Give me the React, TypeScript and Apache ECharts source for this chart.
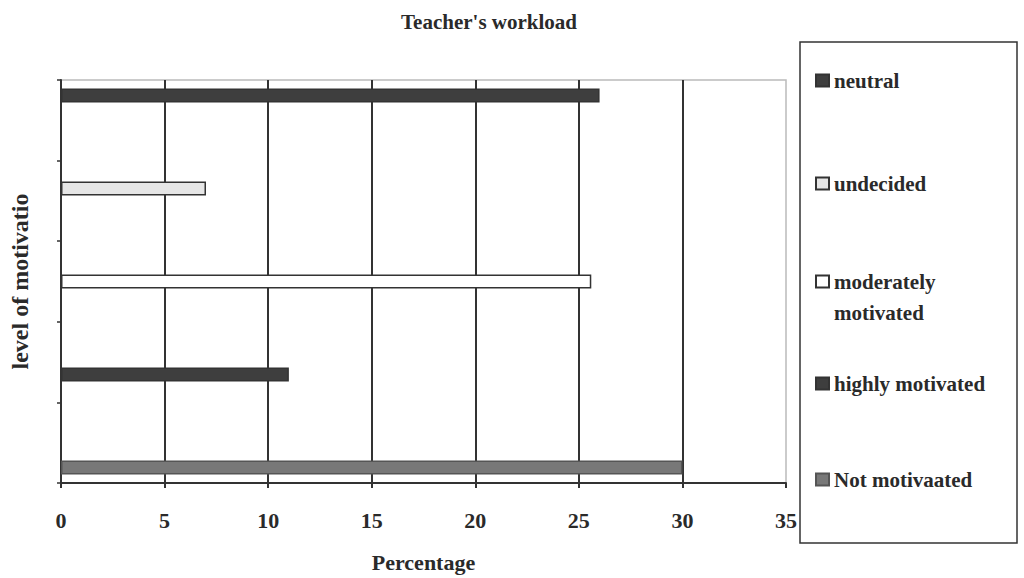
import React, { useEffect, useRef } from "react";
import * as echarts from "echarts";

const seriesNames = ["neutral", "undecided", "moderately motivated", "highly motivated", "Not motivaated"];
const legendLabels = ["neutral", "undecided", "\nmoderately\nmotivated", "highly motivated", "Not motivaated"];
const values = [26, 7, 25.6, 11, 30];
const fills = ["#3e3e3e", "#e6e6e6", "#ffffff", "#3e3e3e", "#787878"];
const borders = ["#333333", "#333333", "#333333", "#333333", "#555555"];
const xTicks = [0, 5, 10, 15, 20, 25, 30, 35];
const levelSlots = ["", "", "", "", ""];
const legendTops = [60, 163, 230, 363, 459];

const FONT = "Liberation Serif";

export default function App() {
  const ref = useRef<HTMLDivElement>(null);
  useEffect(() => {
    if (!ref.current) return;
    const chart = echarts.init(ref.current, undefined, { renderer: "svg" });
    const legends = seriesNames.map((n, i) => ({
      data: [n],
      left: 810,
      top: legendTops[i],
      orient: "vertical",
      itemWidth: 13,
      itemHeight: 12,
      icon: "rect",
      itemGap: 0,
      selectedMode: false,
      formatter: () => legendLabels[i],
      textStyle: {
        fontFamily: FONT,
        fontWeight: "bold",
        fontSize: 21,
        color: "#2a2a2a",
        lineHeight: 31,
      },
    }));
    chart.setOption({
      animation: false,
      backgroundColor: "#ffffff",
      title: {
        text: "Teacher's workload",
        left: 484,
        top: 6,
        textAlign: "center",
        textStyle: { fontFamily: FONT, fontWeight: "bold", fontSize: 21, color: "#2a2a2a" },
      },
      legend: legends,
      grid: {
        left: 59,
        right: 238,
        top: 80,
        bottom: 95,
        show: true,
        borderColor: "#bbbbbb",
        borderWidth: 1.5,
        backgroundColor: "#ffffff",
      },
      xAxis: {
        type: "value",
        min: xTicks[0],
        max: xTicks[xTicks.length - 1],
        interval: 5,
        name: "Percentage",
        nameLocation: "middle",
        nameGap: 68,
        nameTextStyle: { fontFamily: FONT, fontWeight: "bold", fontSize: 22, color: "#2a2a2a" },
        axisLine: { show: true, lineStyle: { color: "#333", width: 2 } },
        axisTick: { show: true, length: 5, lineStyle: { color: "#333", width: 2 } },
        axisLabel: { margin: 26, fontFamily: FONT, fontWeight: "bold", fontSize: 22, color: "#2a2a2a" },
        splitLine: {
          show: true,
          showMinLine: false,
          showMaxLine: false,
          lineStyle: { color: "#333", width: 2 },
        },
      },
      yAxis: [
        {
          type: "category",
          data: ["level"],
          name: "level of motivatio",
          nameLocation: "middle",
          nameGap: 29,
          nameTextStyle: { fontFamily: FONT, fontWeight: "bold", fontSize: 24, color: "#2a2a2a" },
          axisLine: { show: true, lineStyle: { color: "#333", width: 2 } },
          axisTick: { show: false },
          axisLabel: { show: false },
          splitLine: { show: false },
        },
        {
          type: "category",
          data: levelSlots,
          position: "left",
          axisLine: { show: false },
          axisTick: { show: true, length: 4, lineStyle: { color: "#333", width: 1.5 } },
          axisLabel: { show: false },
          splitLine: { show: false },
        },
      ],
      series: seriesNames.map((n, i) => ({
        name: n,
        type: "bar",
        yAxisIndex: 0,
        barWidth: 14,
        barGap: "564%",
        data: [values[i]],
        itemStyle: { color: fills[i], borderColor: borders[i], borderWidth: 1.5 },
      })),
      graphic: [
        {
          type: "rect",
          shape: { x: 800, y: 42, width: 217, height: 501 },
          style: { fill: "#ffffff", stroke: "#333", lineWidth: 1.5 },
          z: -1,
          silent: true,
        },
      ],
    });
    return () => chart.dispose();
  }, []);
  return (
    <div
      ref={ref}
      style={{ position: "fixed", left: 0, top: 0, width: 1024, height: 578, background: "#fff" }}
    />
  );
}
